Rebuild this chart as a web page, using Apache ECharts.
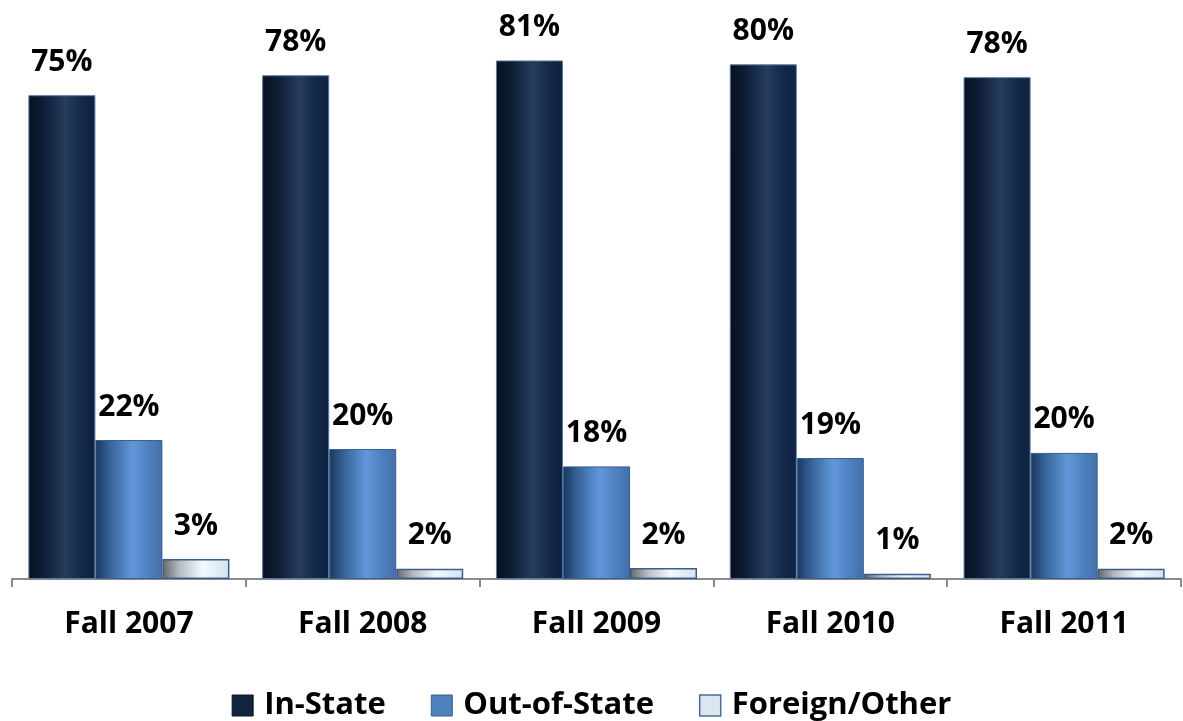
<!DOCTYPE html>
<html>
<head>
<meta charset="utf-8">
<script src="https://cdn.jsdelivr.net/npm/echarts@6/dist/echarts.min.js"></script>
<style>
  html, body { margin: 0; padding: 0; background: #fff; }
  #chart { width: 1183px; height: 721px; }
</style>
</head>
<body>
<div id="chart"></div>
<script>
// categories and values (percent)
var years = ['Fall 2007', 'Fall 2008', 'Fall 2009', 'Fall 2010', 'Fall 2011'];
var inState = [75.2, 78.3, 80.6, 80.0, 78.0];
var outState = [21.6, 20.2, 17.5, 18.8, 19.6];
var foreign = [3.1, 1.6, 1.7, 0.8, 1.6];

var FONT = '"Open Sans"';

// horizontal gradient to fake the cylinder shading
function grad(stops) {
  return new echarts.graphic.LinearGradient(0, 0, 1, 0, stops.map(function (s) {
    return { offset: s[0], color: s[1] };
  }));
}

var label = {
  show: true,
  position: 'top',
  distance: 18,
  fontFamily: FONT,
  fontWeight: 'bold',
  fontSize: 30,
  color: '#000',
  formatter: function (p) { return Math.round(p.value) + '%'; }
};

var chart = echarts.init(document.getElementById('chart'));
chart.setOption({
  animation: false,
  grid: { left: 12, right: 2, top: 0, bottom: 142 },
  legend: {
    bottom: 0,
    padding: 0,
    left: 'center',
    itemWidth: 21,
    itemHeight: 21,
    itemGap: 45,
    textStyle: { fontFamily: FONT, fontWeight: 'bold', fontSize: 31, color: '#000', padding: [0, 0, 0, 6] },
    data: [
      { name: 'In-State', icon: 'rect', itemStyle: { color: '#13243f', borderColor: '#0a1628', borderWidth: 1 } },
      { name: 'Out-of-State', icon: 'rect', itemStyle: { color: '#4f81bd', borderColor: '#385d8a', borderWidth: 1 } },
      { name: 'Foreign/Other', icon: 'rect', itemStyle: { color: '#dce6f2', borderColor: '#4a6d99', borderWidth: 1.5 } }
    ]
  },
  xAxis: {
    type: 'category',
    data: years,
    axisLine: { lineStyle: { color: '#8a8a8a', width: 2 } },
    axisTick: { show: true, length: 8, lineStyle: { color: '#8a8a8a', width: 2 } },
    axisLabel: { margin: 30, fontFamily: FONT, fontWeight: 'bold', fontSize: 30, color: '#000' }
  },
  yAxis: {
    type: 'value',
    min: 0,
    max: 90,
    show: false,
    splitLine: { show: false }
  },
  series: [
    {
      name: 'In-State',
      type: 'bar',
      data: inState,
      barGap: '0%',
      barCategoryGap: '14%',
      label: label,
      itemStyle: {
        color: grad([[0, '#07101d'], [0.25, '#0f1f38'], [0.55, '#263d5d'], [0.8, '#13284a'], [1, '#0e2140']]),
        borderColor: '#5679a6',
        borderWidth: 1
      }
    },
    {
      name: 'Out-of-State',
      type: 'bar',
      data: outState,
      label: label,
      itemStyle: {
        color: grad([[0, '#1b365c'], [0.2, '#346096'], [0.55, '#6198da'], [0.8, '#4e80bf'], [1, '#436fa8']]),
        borderColor: '#3a5f8f',
        borderWidth: 1
      }
    },
    {
      name: 'Foreign/Other',
      type: 'bar',
      data: foreign,
      label: label,
      itemStyle: {
        color: grad([[0, '#656565'], [0.25, '#b4bac2'], [0.6, '#f2faff'], [1, '#d4e1ef']]),
        borderColor: '#3a5f8f',
        borderWidth: 1.5
      }
    }
  ]
});
</script>
</body>
</html>
